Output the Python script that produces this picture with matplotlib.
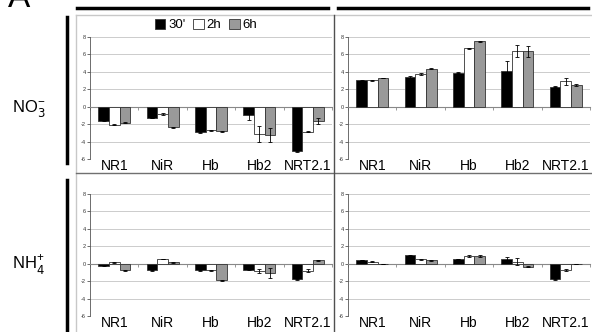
import matplotlib
matplotlib.use("Agg")
import matplotlib.pyplot as plt
import numpy as np
from matplotlib.lines import Line2D
from matplotlib.patches import Patch

plt.rcParams['font.family'] = ['Liberation Sans', 'DejaVu Sans']

categories = ["NR1", "NiR", "Hb", "Hb2", "NRT2.1"]
series = ["30'", "2h", "6h"]

# NO3- , left panel
no3_left = {
    "30'": [-1.6, -1.3, -2.95, -1.0, -5.1],
    "2h":  [-2.05, -0.85, -2.7, -3.1, -2.85],
    "6h":  [-1.85, -2.35, -2.8, -3.2, -1.65],
}
no3_left_err = {
    "30'": [0.05, 0.05, 0.05, 0.5, 0.05],
    "2h":  [0.05, 0.1, 0.05, 0.9, 0.1],
    "6h":  [0.05, 0.05, 0.05, 0.8, 0.3],
}
# NO3- , right panel
no3_right = {
    "30'": [3.05, 3.4, 3.9, 4.1, 2.3],
    "2h":  [3.05, 3.75, 6.7, 6.35, 2.9],
    "6h":  [3.3, 4.35, 7.5, 6.35, 2.5],
}
no3_right_err = {
    "30'": [0.05, 0.1, 0.05, 1.1, 0.05],
    "2h":  [0.05, 0.1, 0.05, 0.7, 0.4],
    "6h":  [0.05, 0.05, 0.05, 0.6, 0.1],
}
# NH4+ , left panel
nh4_left = {
    "30'": [-0.23, -0.73, -0.73, -0.7, -1.8],
    "2h":  [0.15, 0.54, -0.75, -0.85, -0.8],
    "6h":  [-0.77, 0.15, -1.88, -1.04, 0.4],
}
nh4_left_err = {
    "30'": [0.05, 0.05, 0.05, 0.05, 0.05],
    "2h":  [0.1, 0.05, 0.05, 0.2, 0.15],
    "6h":  [0.05, 0.05, 0.05, 0.6, 0.05],
}
# NH4+ , right panel
nh4_right = {
    "30'": [0.42, 0.96, 0.54, 0.55, -1.8],
    "2h":  [0.25, 0.5, 0.9, 0.2, -0.7],
    "6h":  [-0.05, 0.4, 0.9, -0.35, -0.05],
}
nh4_right_err = {
    "30'": [0.05, 0.05, 0.05, 0.2, 0.05],
    "2h":  [0.05, 0.05, 0.1, 0.4, 0.1],
    "6h":  [0.02, 0.05, 0.15, 0.05, 0.02],
}

colors = {"30'": "#000000", "2h": "#ffffff", "6h": "#999999"}
yticks = [-6, -4, -2, 0, 2, 4, 6, 8]

W, H = 592, 332
fig = plt.figure(figsize=(W / 100, H / 100), dpi=100)

def fx(px):
    return px / W

def fy(py):
    return 1 - py / H

def panel(left_px, top_px, data, err):
    ax = fig.add_axes([fx(left_px), fy(top_px + 122), fx(242), 122 / H])
    x = np.arange(len(categories))
    bw = 0.22
    for i, s in enumerate(series):
        ax.bar(x + (i - 1) * bw, data[s], bw, color=colors[s],
               edgecolor="#333333", linewidth=0.6, zorder=3,
               yerr=err[s], error_kw=dict(ecolor="black", elinewidth=0.6,
                                          capsize=1.5, capthick=0.6, zorder=4))
    ax.set_xlim(-0.5, len(categories) - 0.5)
    ax.set_ylim(-6, 8)
    ax.set_yticks(yticks)
    ax.set_yticklabels([str(t) for t in yticks], fontsize=4, color="#333333")
    for t in yticks:
        if t != 0:
            ax.axhline(t, color="#888888", linestyle=(0, (1.2, 1.2)),
                       linewidth=0.6, zorder=1)
    for sp in ["top", "right"]:
        ax.spines[sp].set_visible(False)
    ax.spines["bottom"].set_position(("data", 0))
    ax.spines["bottom"].set_color("#888888")
    ax.spines["bottom"].set_linewidth(0.8)
    ax.spines["left"].set_color("#555555")
    ax.spines["left"].set_linewidth(0.6)
    ax.set_xticks(np.arange(len(categories) + 1) - 0.5)
    ax.set_xticklabels([])
    ax.tick_params(axis="x", length=2, width=0.6, color="#888888", direction="out")
    ax.tick_params(axis="y", length=2, width=0.6, color="#555555", pad=1)
    for i, c in enumerate(categories):
        ax.text(i, -5.95, c, ha="center", va="top", fontsize=10, color="black")
    ax.patch.set_alpha(0)
    return ax

panel(90, 37, no3_left, no3_left_err)
panel(348, 37, no3_right, no3_right_err)
panel(90, 194, nh4_left, nh4_left_err)
panel(348, 194, nh4_right, nh4_right_err)

def fline(x0, y0, x1, y1, color, lw):
    fig.add_artist(Line2D([fx(x0), fx(x1)], [fy(y0), fy(y1)], color=color,
                          linewidth=lw, transform=fig.transFigure))

# frame lines
fline(76, 15, 592, 15, "#c8c8c8", 1.0)
fline(76, 15, 76, 332, "#c8c8c8", 1.0)
fline(76, 173, 592, 173, "#707070", 1.0)
fline(334, 15, 334, 332, "#505050", 1.0)
# top black bars
fline(77, 8, 328, 8, "black", 2.5)
fline(338, 8, 588, 8, "black", 2.5)
# vertical black bars
fline(67, 17, 67, 163, "black", 2.5)
fline(67, 180, 67, 332, "black", 2.5)

fig.text(fx(8), fy(7), "A", fontsize=24, ha="left", va="baseline")
fig.text(fx(12), fy(108), r"NO$_3^{\mathregular{-}}$", fontsize=12, ha="left", va="center")
fig.text(fx(12), fy(265), r"NH$_4^{\mathregular{+}}$", fontsize=12, ha="left", va="center")

handles = [Patch(facecolor=colors[s], edgecolor="#333333", linewidth=0.6) for s in series]
fig.legend(handles, series, loc="center", bbox_to_anchor=(fx(206), fy(25)),
           ncol=3, frameon=False, fontsize=9.5, handlelength=0.8, handleheight=0.8,
           handletextpad=0.2, columnspacing=0.6, borderpad=0)

fig.savefig("out.png", dpi=100)
